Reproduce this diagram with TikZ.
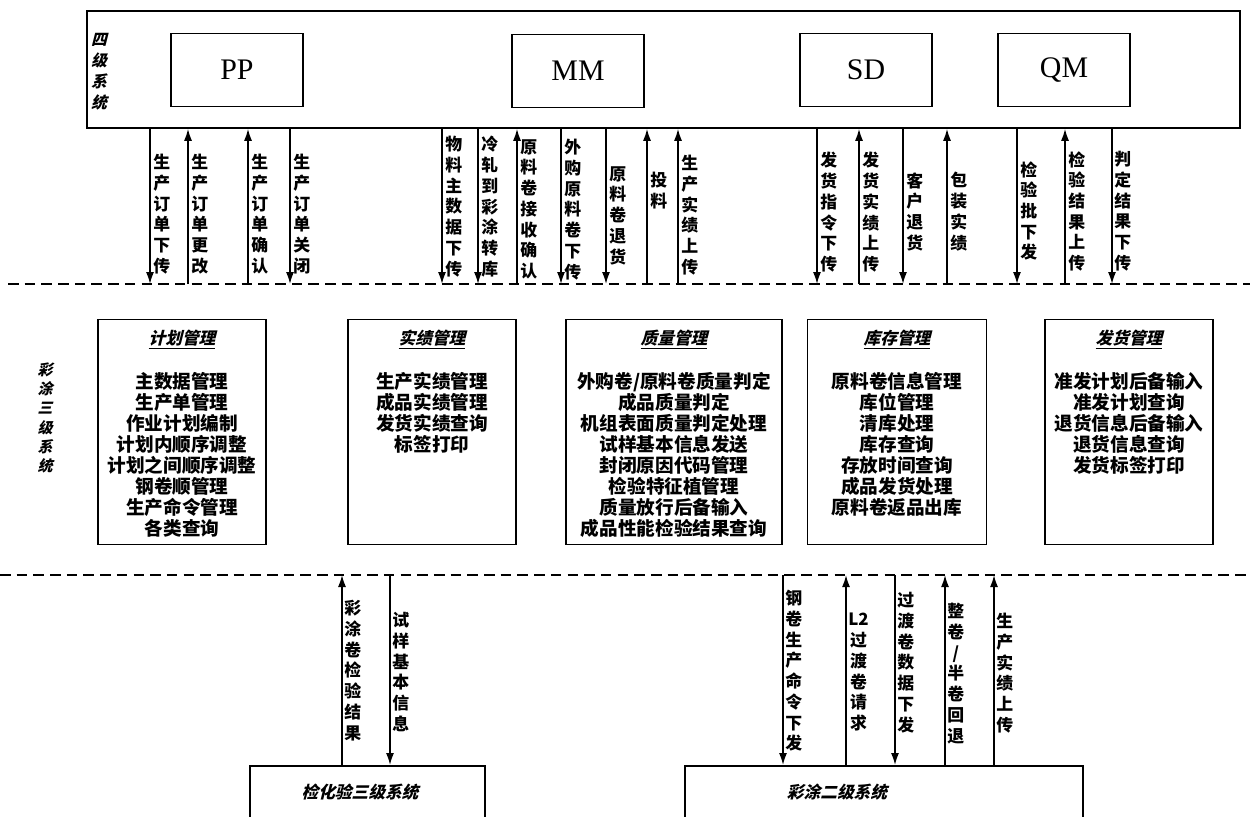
\documentclass[tikz,border=0pt]{standalone}
\usepackage{fontspec}
\setmainfont{Liberation Serif}
\newfontfamily\cjk{Noto Sans CJK SC}
\newfontfamily\cjkit{Noto Sans CJK SC}[FakeSlant=0.25]
\usetikzlibrary{arrows.meta, positioning, calc}

\tikzset{
  sysbox/.style={draw, line width=0.9pt, inner sep=0pt},
  modbox/.style={draw, line width=0.9pt, minimum width=2.64cm, minimum height=1.46cm, font=\fontsize{17}{19}\selectfont},
  funcbox/.style={draw, line width=0.9pt, minimum height=4.5cm, inner sep=0pt},
  functext/.style={anchor=north, align=center, inner sep=0pt, font=\cjk\bfseries\fontsize{10.6}{11.9}\selectfont},
  vlabel/.style={anchor=north west, align=center, inner sep=0pt, font=\cjk\bfseries\fontsize{9.6}{11.8}\selectfont},
  vtitle/.style={align=center, inner sep=0pt, font=\cjkit\bfseries\fontsize{9}{12}\selectfont},
  flow/.style={-{Latex[length=2.4mm,width=1.6mm]}, line width=0.9pt},
  sepline/.style={dash pattern=on 6pt off 3.5pt, line width=0.8pt},
}

\begin{document}
\begin{tikzpicture}[x=0.02cm, y=-0.02cm]
  \useasboundingbox (0,0) rectangle (1250,816);
  \clip (0,0) rectangle (1250,816);

  % level-4 system
  \node[sysbox, minimum width=23.06cm, minimum height=2.34cm] (sys4) at (663.5,69.5) {};
  \node[vtitle] (sys4name) at (99,72) {四\\级\\系\\统};
  \node[modbox] (pp) at (237,70) {PP};
  \node[modbox] (mm) at (578,71) {MM};
  \node[modbox] (sd) at (866,70) {SD};
  \node[modbox] (qm) at (1064,70) {QM};

  % separators
  \coordinate (s1w) at (8,284);
  \coordinate (s1e) at (1250,284);
  \coordinate (s2w) at (0,575);
  \coordinate (s2e) at (1250,575);
  \draw[sepline] (s1w) -- (s1e);
  \draw[sepline] (s2w) -- (s2e);

  % level-4 <-> level-3 interfaces
  \coordinate (a1) at (150,284);
  \coordinate (a2) at (188,284);
  \coordinate (a3) at (248,284);
  \coordinate (a4) at (290,284);
  \coordinate (a5) at (442,284);
  \coordinate (a6) at (478,284);
  \coordinate (a7) at (517,284);
  \coordinate (a8) at (561,284);
  \coordinate (a9) at (606,284);
  \coordinate (a10) at (647,284);
  \coordinate (a11) at (678,284);
  \coordinate (a12) at (817,284);
  \coordinate (a13) at (859,284);
  \coordinate (a14) at (903,284);
  \coordinate (a15) at (947,284);
  \coordinate (a16) at (1017,284);
  \coordinate (a17) at (1065,284);
  \coordinate (a18) at (1112,284);
  \draw[flow] (sys4.south -| a1) -- (a1);
  \draw[flow] (a2) -- (sys4.south -| a2);
  \draw[flow] (a3) -- (sys4.south -| a3);
  \draw[flow] (sys4.south -| a4) -- (a4);
  \draw[flow] (sys4.south -| a5) -- (a5);
  \draw[flow] (sys4.south -| a6) -- (a6);
  \draw[flow] (a7) -- (sys4.south -| a7);
  \draw[flow] (sys4.south -| a8) -- (a8);
  \draw[flow] (sys4.south -| a9) -- (a9);
  \draw[flow] (a10) -- (sys4.south -| a10);
  \draw[flow] (a11) -- (sys4.south -| a11);
  \draw[flow] (sys4.south -| a12) -- (a12);
  \draw[flow] (a13) -- (sys4.south -| a13);
  \draw[flow] (sys4.south -| a14) -- (a14);
  \draw[flow] (a15) -- (sys4.south -| a15);
  \draw[flow] (sys4.south -| a16) -- (a16);
  \draw[flow] (a17) -- (sys4.south -| a17);
  \draw[flow] (sys4.south -| a18) -- (a18);
  \node[vlabel] (l1) at (153,154) {生\\产\\订\\单\\下\\传};
  \node[vlabel] (l2) at (191,154) {生\\产\\订\\单\\更\\改};
  \node[vlabel] (l3) at (251,154) {生\\产\\订\\单\\确\\认};
  \node[vlabel] (l4) at (293,154) {生\\产\\订\\单\\关\\闭};
  \node[vlabel] (l5) at (445,136) {物\\料\\主\\数\\据\\下\\传};
  \node[vlabel] (l6) at (481,136) {冷\\轧\\到\\彩\\涂\\转\\库};
  \node[vlabel] (l7) at (520,139) {原\\料\\卷\\接\\收\\确\\认};
  \node[vlabel] (l8) at (564,139) {外\\购\\原\\料\\卷\\下\\传};
  \node[vlabel] (l9) at (609,166) {原\\料\\卷\\退\\货};
  \node[vlabel] (l10) at (650,172) {投\\料};
  \node[vlabel] (l11) at (681,155) {生\\产\\实\\绩\\上\\传};
  \node[vlabel] (l12) at (820,152) {发\\货\\指\\令\\下\\传};
  \node[vlabel] (l13) at (862,152) {发\\货\\实\\绩\\上\\传};
  \node[vlabel] (l14) at (906,172) {客\\户\\退\\货};
  \node[vlabel] (l15) at (950,172) {包\\装\\实\\绩};
  \node[vlabel] (l16) at (1020,161) {检\\验\\批\\下\\发};
  \node[vlabel] (l17) at (1068,151) {检\\验\\结\\果\\上\\传};
  \node[vlabel] (l18) at (1114,151) {判\\定\\结\\果\\下\\传};

  % level-3 system
  \node[vtitle, font=\cjkit\bfseries\fontsize{8.5}{11}\selectfont] (sys3name) at (45,418) {彩\\涂\\三\\级\\系\\统};
  \node[funcbox, minimum width=3.36cm] (plan) at (182,432) {};
  \node[funcbox, minimum width=3.36cm] (perf) at (432,432) {};
  \node[funcbox, minimum width=4.32cm] (qual) at (674,432) {};
  \node[funcbox, minimum width=3.58cm] (stock) at (897,432) {};
  \node[funcbox, minimum width=3.36cm] (ship) at (1129,432) {};
  \node[functext] (plantxt) at ([yshift=-0.22cm]plan.north) {{\cjkit\fontsize{9.5}{11.9}\selectfont\underline{计划管理}}\\[12pt]
    主数据管理\\生产单管理\\作业计划编制\\计划内顺序调整\\计划之间顺序调整\\钢卷顺管理\\生产命令管理\\各类查询};
  \node[functext] (perftxt) at ([yshift=-0.22cm]perf.north) {{\cjkit\fontsize{9.5}{11.9}\selectfont\underline{实绩管理}}\\[12pt]
    生产实绩管理\\成品实绩管理\\发货实绩查询\\标签打印};
  \node[functext] (qualtxt) at ([yshift=-0.22cm]qual.north) {{\cjkit\fontsize{9.5}{11.9}\selectfont\underline{质量管理}}\\[12pt]
    外购卷/原料卷质量判定\\成品质量判定\\机组表面质量判定处理\\试样基本信息发送\\封闭原因代码管理\\检验特征植管理\\质量放行后备输入\\成品性能检验结果查询};
  \node[functext] (stocktxt) at ([yshift=-0.22cm]stock.north) {{\cjkit\fontsize{9.5}{11.9}\selectfont\underline{库存管理}}\\[12pt]
    原料卷信息管理\\库位管理\\清库处理\\库存查询\\存放时间查询\\成品发货处理\\原料卷返品出库};
  \node[functext] (shiptxt) at ([yshift=-0.22cm]ship.north) {{\cjkit\fontsize{9.5}{11.9}\selectfont\underline{发货管理}}\\[12pt]
    准发计划后备输入\\准发计划查询\\退货信息后备输入\\退货信息查询\\发货标签打印};

  % lab and level-2 systems
  \node[draw, line width=0.9pt, minimum width=4.7cm, minimum height=2cm, anchor=north] (lims) at (367.5,765) {};
  \node[draw, line width=0.9pt, minimum width=7.96cm, minimum height=2cm, anchor=north] (l2sys) at (884,765) {};
  \node[vtitle, font=\cjkit\bfseries\fontsize{9.5}{12}\selectfont] (limstxt) at (360,792) {检化验三级系统};
  \node[vtitle, font=\cjkit\bfseries\fontsize{9.5}{12}\selectfont] (l2txt) at (837,792) {彩涂二级系统};

  % level-3 <-> lab / level-2 interfaces
  \coordinate (b1) at (342,575);
  \coordinate (b2) at (390,575);
  \coordinate (b3) at (783,575);
  \coordinate (b4) at (846,575);
  \coordinate (b5) at (895,575);
  \coordinate (b6) at (945,575);
  \coordinate (b7) at (994,575);
  \draw[flow] (lims.north -| b1) -- (b1);
  \draw[flow] (b2) -- (lims.north -| b2);
  \draw[flow] (b3) -- (l2sys.north -| b3);
  \draw[flow] (l2sys.north -| b4) -- (b4);
  \draw[flow] (b5) -- (l2sys.north -| b5);
  \draw[flow] (l2sys.north -| b6) -- (b6);
  \draw[flow] (l2sys.north -| b7) -- (b7);
  \node[vlabel] (m1) at (344,600) {彩\\涂\\卷\\检\\验\\结\\果};
  \node[vlabel] (m2) at (392,612) {试\\样\\基\\本\\信\\息};
  \node[vlabel] (m3) at (785,590) {钢\\卷\\生\\产\\命\\令\\下\\发};
  \node[vlabel] (m4) at (848,613) {L2\\过\\渡\\卷\\请\\求};
  \node[vlabel] (m5) at (897,592) {过\\渡\\卷\\数\\据\\下\\发};
  \node[vlabel] (m6) at (947,603) {整\\卷\\/\\半\\卷\\回\\退};
  \node[vlabel] (m7) at (996,613) {生\\产\\实\\绩\\上\\传};
\end{tikzpicture}
\end{document}
